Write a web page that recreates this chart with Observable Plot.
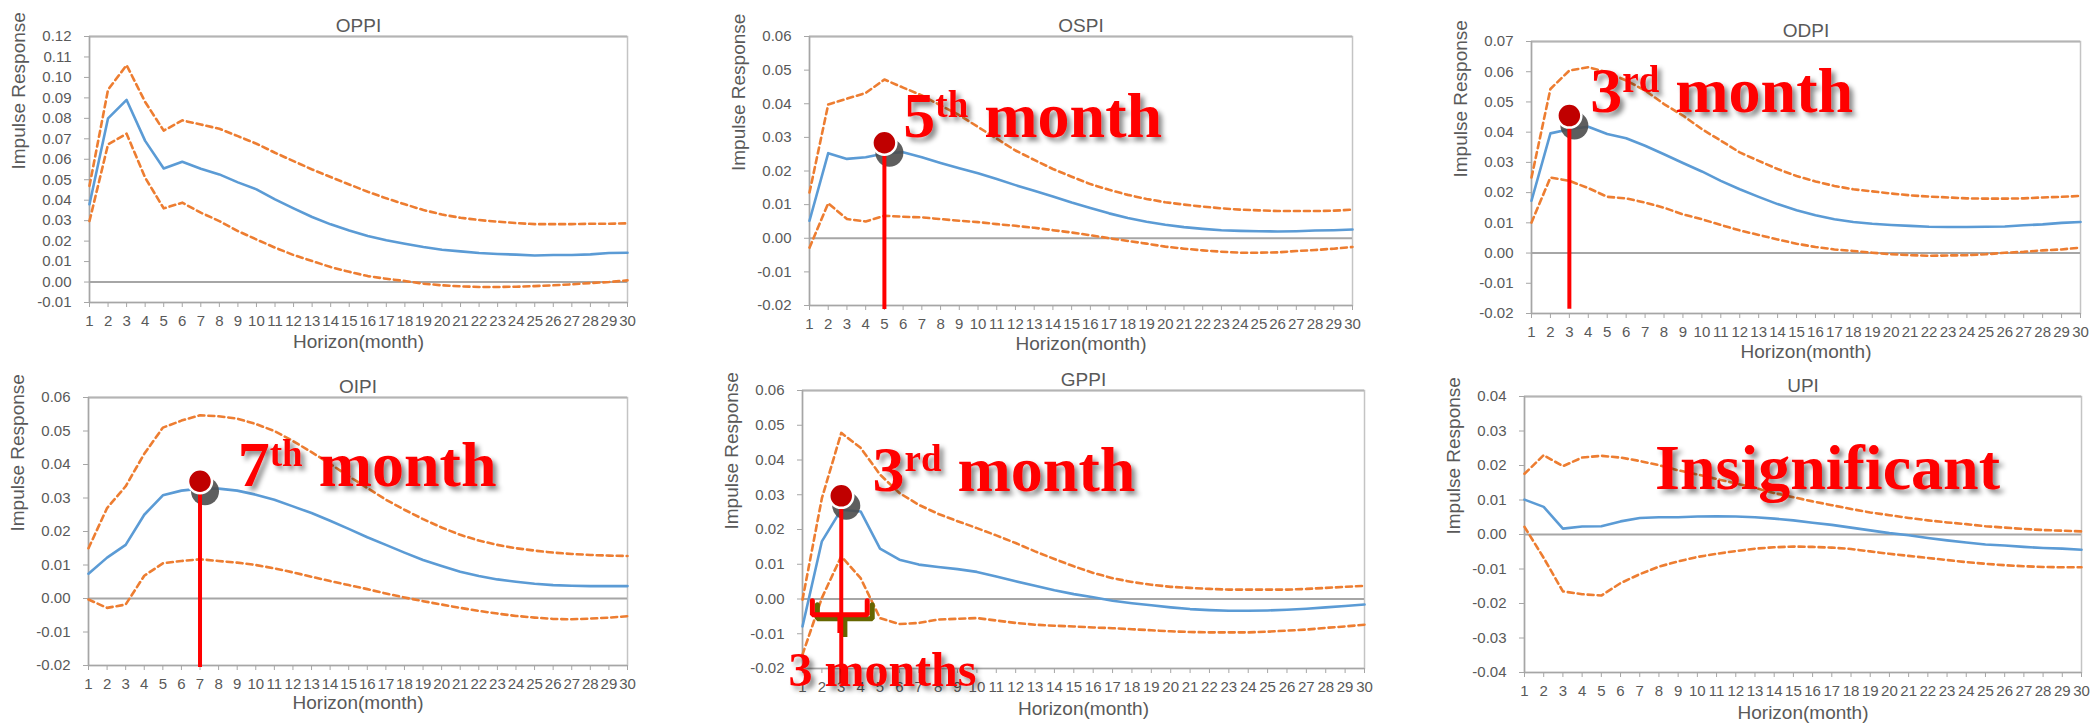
<!DOCTYPE html>
<html>
<head>
<meta charset="utf-8">
<script src="https://cdn.jsdelivr.net/npm/d3@7"></script>
<script src="https://cdn.jsdelivr.net/npm/@observablehq/plot@0.6"></script>
<style>
html, body { margin: 0; padding: 0; background: #ffffff; }
#root { position: relative; width: 2090px; height: 728px; overflow: hidden; background: #ffffff; }
.panel { position: absolute; }
.panel svg { max-width: none !important; overflow: visible; }
</style>
</head>
<body>
<svg width="0" height="0" style="position:absolute">
  <defs>
    <filter id="txtShadow" x="-20%" y="-30%" width="140%" height="170%">
      <feDropShadow dx="4" dy="4" stdDeviation="2.5" flood-color="#000000" flood-opacity="0.45"/>
    </filter>
    <filter id="softBlur" x="-50%" y="-50%" width="200%" height="200%">
      <feGaussianBlur stdDeviation="1.2"/>
    </filter>
  </defs>
</svg>
<div id="root"></div>
<script>
// ---------- categories ----------
const months = [1,2,3,4,5,6,7,8,9,10,11,12,13,14,15,16,17,18,19,20,21,22,23,24,25,26,27,28,29,30];

// ---------- OPPI ----------
const oppiMid = [0.038,0.080,0.089,0.069,0.0555,0.0588,0.0554,0.0526,0.0487,0.0453,0.0404,0.036,0.0318,0.0282,0.0252,0.0225,0.0204,0.0187,0.0171,0.0158,0.015,0.0142,0.0137,0.0134,0.013,0.0132,0.0132,0.0135,0.0142,0.0143];
const oppiUp  = [0.047,0.094,0.106,0.088,0.074,0.079,0.077,0.0749,0.0713,0.0676,0.0632,0.0591,0.055,0.0513,0.0477,0.0441,0.0409,0.038,0.0352,0.033,0.0314,0.0303,0.0295,0.0288,0.0283,0.0283,0.0283,0.0285,0.0285,0.0287];
const oppiLo  = [0.0298,0.0673,0.0725,0.051,0.036,0.0388,0.0339,0.0298,0.0249,0.0208,0.0168,0.0132,0.0103,0.0073,0.005,0.0029,0.0016,0.0005,-0.0008,-0.0016,-0.0021,-0.0024,-0.0024,-0.0023,-0.002,-0.0016,-0.0011,-0.0005,0.0,0.0008];
const oppiTicks = [-0.01,0.00,0.01,0.02,0.03,0.04,0.05,0.06,0.07,0.08,0.09,0.10,0.11,0.12];

// ---------- OSPI ----------
const ospiMid = [0.0052,0.0253,0.0236,0.0241,0.0252,0.0256,0.0241,0.0224,0.0208,0.0193,0.0176,0.0158,0.0141,0.0124,0.0106,0.009,0.0074,0.006,0.0049,0.004,0.0033,0.0028,0.0024,0.0022,0.0021,0.002,0.0021,0.0023,0.0024,0.0026];
const ospiUp  = [0.0136,0.0398,0.0415,0.0432,0.0472,0.0448,0.0425,0.0395,0.0366,0.0331,0.0296,0.0261,0.0233,0.0206,0.0183,0.0161,0.0144,0.0129,0.0117,0.0107,0.01,0.0094,0.0089,0.0085,0.0083,0.0081,0.0081,0.0081,0.0082,0.0085];
const ospiLo  = [-0.0028,0.0104,0.0057,0.005,0.0067,0.0064,0.0062,0.0057,0.0052,0.0048,0.0042,0.0037,0.0031,0.0024,0.0017,0.0009,0.0,-0.0008,-0.0016,-0.0025,-0.0031,-0.0036,-0.004,-0.0043,-0.0043,-0.0042,-0.0038,-0.0035,-0.0031,-0.0026];
const ospiTicks = [-0.02,-0.01,0.00,0.01,0.02,0.03,0.04,0.05,0.06];

// ---------- ODPI ----------
const odpiMid = [0.0173,0.0396,0.041,0.0418,0.0394,0.038,0.0355,0.0327,0.0298,0.027,0.0239,0.0211,0.0186,0.0162,0.0142,0.0125,0.0112,0.0103,0.0097,0.0093,0.009,0.0087,0.0086,0.0086,0.0087,0.0088,0.0092,0.0095,0.01,0.0103];
const odpiUp  = [0.025,0.0543,0.0604,0.0615,0.0598,0.0571,0.0538,0.0493,0.0455,0.041,0.0372,0.0333,0.0305,0.0278,0.0255,0.0237,0.0222,0.0211,0.0204,0.0197,0.0191,0.0187,0.0184,0.0181,0.018,0.018,0.0181,0.0184,0.0186,0.0189];
const odpiLo  = [0.0101,0.025,0.0239,0.0215,0.0186,0.0181,0.0167,0.015,0.0128,0.0112,0.0093,0.0075,0.006,0.0045,0.0031,0.002,0.0012,0.0007,0.0001,-0.0004,-0.0007,-0.0009,-0.0008,-0.0007,-0.0004,0.0001,0.0004,0.0009,0.0012,0.0018];
const odpiTicks = [-0.02,-0.01,0.00,0.01,0.02,0.03,0.04,0.05,0.06,0.07];

// ---------- OIPI ----------
const oipiMid = [0.0074,0.0122,0.016,0.025,0.0308,0.0322,0.0328,0.0328,0.0322,0.031,0.0295,0.0275,0.0255,0.0232,0.0208,0.0183,0.016,0.0137,0.0115,0.0097,0.008,0.0067,0.0057,0.005,0.0044,0.004,0.0038,0.0037,0.0037,0.0037];
const oipiUp  = [0.015,0.027,0.0335,0.0432,0.051,0.0531,0.0547,0.0544,0.0537,0.0521,0.05,0.047,0.0437,0.0402,0.0365,0.033,0.0295,0.0265,0.0237,0.0212,0.019,0.0173,0.016,0.015,0.0143,0.0137,0.0133,0.013,0.0128,0.0127];
const oipiLo  = [-0.0003,-0.0028,-0.0018,0.0068,0.0105,0.0112,0.0117,0.0112,0.0107,0.01,0.009,0.0078,0.0065,0.0052,0.004,0.0028,0.0015,0.0003,-0.0008,-0.0018,-0.0028,-0.0037,-0.0045,-0.0052,-0.0057,-0.0061,-0.0062,-0.006,-0.0057,-0.0053];
const oipiTicks = [-0.02,-0.01,0.00,0.01,0.02,0.03,0.04,0.05,0.06];

// ---------- GPPI ----------
const gppiMid = [-0.0079,0.0166,0.0257,0.0252,0.0145,0.0113,0.0099,0.0092,0.0086,0.0078,0.0065,0.0051,0.0038,0.0025,0.0014,0.0005,-0.0005,-0.0012,-0.0018,-0.0024,-0.0029,-0.0032,-0.0034,-0.0034,-0.0033,-0.0031,-0.0028,-0.0024,-0.002,-0.0016];
const gppiUp  = [-0.0002,0.029,0.0478,0.0435,0.0358,0.0305,0.0271,0.0245,0.0224,0.0204,0.0183,0.0161,0.0137,0.0115,0.0094,0.0075,0.006,0.0049,0.0041,0.0035,0.0032,0.0029,0.0027,0.0027,0.0027,0.0027,0.0029,0.0032,0.0035,0.0038];
const gppiLo  = [-0.016,0.0003,0.0123,0.006,-0.0055,-0.0072,-0.0069,-0.0059,-0.0057,-0.0055,-0.0062,-0.0069,-0.0074,-0.0077,-0.0079,-0.0082,-0.0084,-0.0087,-0.009,-0.0093,-0.0095,-0.0096,-0.0096,-0.0096,-0.0094,-0.0091,-0.0088,-0.0083,-0.0079,-0.0074];
const gppiTicks = [-0.02,-0.01,0.00,0.01,0.02,0.03,0.04,0.05,0.06];

// ---------- UPI ----------
const upiMid = [0.0101,0.008,0.0017,0.0023,0.0024,0.0038,0.0048,0.005,0.005,0.0052,0.0053,0.0052,0.005,0.0046,0.0041,0.0034,0.0028,0.002,0.0012,0.0004,-0.0002,-0.001,-0.0017,-0.0023,-0.0029,-0.0032,-0.0036,-0.0039,-0.0041,-0.0044];
const upiUp  = [0.0176,0.023,0.0198,0.0223,0.0228,0.0223,0.0213,0.0201,0.0186,0.0174,0.0161,0.0148,0.0135,0.012,0.0108,0.0096,0.0085,0.0074,0.0064,0.0056,0.0048,0.0041,0.0035,0.003,0.0024,0.002,0.0016,0.0013,0.0011,0.0009];
const upiLo  = [0.0022,-0.0068,-0.0165,-0.0173,-0.0177,-0.0141,-0.0115,-0.0093,-0.0078,-0.0065,-0.0056,-0.0048,-0.0041,-0.0037,-0.0035,-0.0036,-0.0038,-0.0042,-0.0049,-0.0056,-0.0062,-0.0068,-0.0074,-0.008,-0.0085,-0.0089,-0.0092,-0.0094,-0.0095,-0.0095];
const upiTicks = [-0.04,-0.03,-0.02,-0.01,0.00,0.01,0.02,0.03,0.04];

// ---------- annotations (data-space anchors) ----------
const ospiPeak = {x: 5, y: 0.0284, yEnd: -0.0212};
const odpiPeak = {x: 3, y: 0.0455, yEnd: -0.0186};
const oipiPeak = {x: 7, y: 0.0350, yEnd: -0.0206};
const gppiPeak = {x: 3, y: 0.0297, yEnd: -0.0245};
const ospiNote = {x: 6.04, y: 0.0301, kind: "peak", parts: [["5", false], ["th", true], [" month", false]]};
const odpiNote = {x: 4.13, y: 0.0466, kind: "peak", parts: [["3", false], ["rd", true], [" month", false]]};
const oipiNote = {x: 9.06, y: 0.0335, kind: "peak", parts: [["7", false], ["th", true], [" month", false]]};
const gppiNote = {x: 4.64, y: 0.0310, kind: "peak", parts: [["3", false], ["rd", true], [" month", false]]};
const gppiSpan = {x: 0.30, y: -0.0253, kind: "span", parts: [["3 months", false]]};
const upiNote  = {x: 7.82, y: 0.0130, kind: "verdict", parts: [["Insignificant", false]]};
const bracketX = [1.51, 1.51, 2.93, 2.93, 2.93, 4.34, 4.34];
const bracketY = [-0.0005, -0.0045, -0.0045, -0.0098, -0.0045, -0.0045, -0.0005];

// ---------- layout ----------
const panels = [
  {title: "OPPI", mid: oppiMid, up: oppiUp, lo: oppiLo, ticks: oppiTicks, box: [0, 0, 700, 364],    m: [36, 73, 62, 89],  hz: 45},
  {title: "OSPI", mid: ospiMid, up: ospiUp, lo: ospiLo, ticks: ospiTicks, box: [700, 0, 690, 364],  m: [36, 38, 59, 109], hz: 44, peak: ospiPeak, notes: [ospiNote]},
  {title: "ODPI", mid: odpiMid, up: odpiUp, lo: odpiLo, ticks: odpiTicks, box: [1390, 0, 700, 364], m: [41, 10, 51, 141], hz: 44, peak: odpiPeak, notes: [odpiNote]},
  {title: "OIPI", mid: oipiMid, up: oipiUp, lo: oipiLo, ticks: oipiTicks, box: [0, 364, 700, 364],  m: [33, 73, 63, 88],  hz: 43, peak: oipiPeak, notes: [oipiNote]},
  {title: "GPPI", mid: gppiMid, up: gppiUp, lo: gppiLo, ticks: gppiTicks, box: [700, 364, 690, 364],m: [26, 26, 60, 102], hz: 46, peak: gppiPeak, notes: [gppiNote, gppiSpan], bracket: true},
  {title: "UPI",  mid: upiMid,  up: upiUp,  lo: upiLo,  ticks: upiTicks,  box: [1390, 364, 700, 364],m: [32, 9, 56, 134],  hz: 46, notes: [upiNote]}
];

const noteSize = {peak: 64, span: 48, verdict: 64};
const NS = "http://www.w3.org/2000/svg";
function noteMark(note) {
  return (index, scales) => {
    const t = document.createElementNS(NS, "text");
    t.setAttribute("x", scales.x(note.x));
    t.setAttribute("y", scales.y(note.y));
    t.setAttribute("text-anchor", "start");
    t.setAttribute("font-family", "'Liberation Serif', 'Times New Roman', serif");
    t.setAttribute("font-weight", "bold");
    t.setAttribute("fill", "#ff0000");
    t.setAttribute("filter", "url(#txtShadow)");
    t.setAttribute("style", "white-space: pre");
    const big = noteSize[note.kind];
    let cur = 0;
    note.parts.forEach(([s, sup]) => {
      const ts = document.createElementNS(NS, "tspan");
      const raise = sup ? 20 : 0;
      ts.setAttribute("font-size", sup ? 37 : big);
      ts.setAttribute("dy", cur - raise);
      cur = raise;
      ts.textContent = s;
      t.appendChild(ts);
    });
    const g = document.createElementNS(NS, "g");
    g.appendChild(t);
    return g;
  };
}

const root = document.getElementById("root");
const hasAxisMarks = typeof Plot.axisX === "function";

panels.forEach(p => {
  const [left, top, width, height] = p.box;
  const [mt, mr, mb, ml] = p.m;
  const rows = months.map((mo, i) => ({mo, mid: p.mid[i], up: p.up[i], lo: p.lo[i]}));
  const yMin = p.ticks[0], yMax = p.ticks[p.ticks.length - 1];
  const marks = [];
  marks.push(Plot.frame({stroke: "#c4c4c4", strokeWidth: 1.5}));
  marks.push(Plot.ruleY([yMax], {stroke: "#b4b4b4", strokeWidth: 2}));
  marks.push(Plot.ruleY([yMin], {stroke: "#a6a6a6", strokeWidth: 1.5}));
  marks.push(Plot.ruleX([1], {stroke: "#a6a6a6", strokeWidth: 1.5}));
  marks.push(Plot.ruleY([0], {stroke: "#a6a6a6", strokeWidth: 2}));
  if (hasAxisMarks) {
    marks.push(Plot.axisX({ticks: months, tickSize: 5, tickPadding: 8, tickFormat: d => String(d), stroke: "#a6a6a6", fill: "#595959", fontSize: 15, label: null}));
    marks.push(Plot.axisY({ticks: p.ticks, tickSize: 5, tickPadding: 13, tickFormat: d => d.toFixed(2), stroke: "#a6a6a6", fill: "#595959", fontSize: 15, label: null}));
  }
  marks.push(Plot.line(rows, {x: "mo", y: "up", stroke: "#ed7d31", strokeWidth: 2.6, strokeDasharray: "6,4"}));
  marks.push(Plot.line(rows, {x: "mo", y: "lo", stroke: "#ed7d31", strokeWidth: 2.6, strokeDasharray: "6,4"}));
  marks.push(Plot.line(rows, {x: "mo", y: "mid", stroke: "#5b9bd5", strokeWidth: 2.6}));
  // titles and axis labels
  marks.push(Plot.text([p.title], {text: d => d, frameAnchor: "top", dy: -18.5, fontSize: 19, fill: "#595959"}));
  marks.push(Plot.text(["Horizon(month)"], {text: d => d, frameAnchor: "bottom", dy: p.hz, fontSize: 19, fill: "#595959"}));
  marks.push(Plot.text(["Impulse Response"], {text: d => d, frameAnchor: "left", dx: -71, rotate: -90, fontSize: 19, fill: "#595959"}));
  if (p.bracket) {
    const br = bracketX.map((bx, i) => ({bx, by: bracketY[i]}));
    marks.push(Plot.line(br, {x: "bx", y: "by", stroke: "#666600", strokeWidth: 5, dx: 5, dy: 4, strokeLinejoin: "miter"}));
    marks.push(Plot.line(br, {x: "bx", y: "by", stroke: "#ff0000", strokeWidth: 5, strokeLinejoin: "miter"}));
  }
  if (p.peak) {
    marks.push(Plot.dot([p.peak], {x: "x", y: "y", r: 14, fill: "#4d4d4d", fillOpacity: 0.9, dx: 5, dy: 10, ariaLabel: "pin-shadow"}));
    marks.push(Plot.ruleX([p.peak], {x: "x", y1: "y", y2: "yEnd", stroke: "#ff0000", strokeWidth: 4}));
    marks.push(Plot.dot([p.peak], {x: "x", y: "y", r: 12, fill: "#c00000", stroke: "#ffffff", strokeWidth: 2.5}));
  }
  (p.notes || []).forEach(n => marks.push(noteMark(n)));

  const opts = {
    width, height,
    marginTop: mt, marginRight: mr, marginBottom: mb, marginLeft: ml,
    style: {fontFamily: "'Liberation Sans', Arial, sans-serif", fontSize: "15px", color: "#595959", background: "transparent", overflow: "visible"},
    x: {domain: [1, 30]},
    y: {domain: [yMin, yMax]},
    marks
  };
  if (!hasAxisMarks) {
    opts.x = {domain: [1, 30], ticks: months, tickSize: 5, tickPadding: 8, tickFormat: d => String(d), label: null};
    opts.y = {domain: [yMin, yMax], ticks: p.ticks, tickSize: 5, tickPadding: 13, tickFormat: d => d.toFixed(2), label: null};
  }
  const chart = Plot.plot(opts);
  chart.querySelectorAll('[aria-label="pin-shadow"]').forEach(g => g.setAttribute("filter", "url(#softBlur)"));
  const div = document.createElement("div");
  div.className = "panel";
  div.style.left = left + "px";
  div.style.top = top + "px";
  div.style.width = width + "px";
  div.style.height = height + "px";
  div.appendChild(chart);
  root.appendChild(div);
});
</script>
</body>
</html>
